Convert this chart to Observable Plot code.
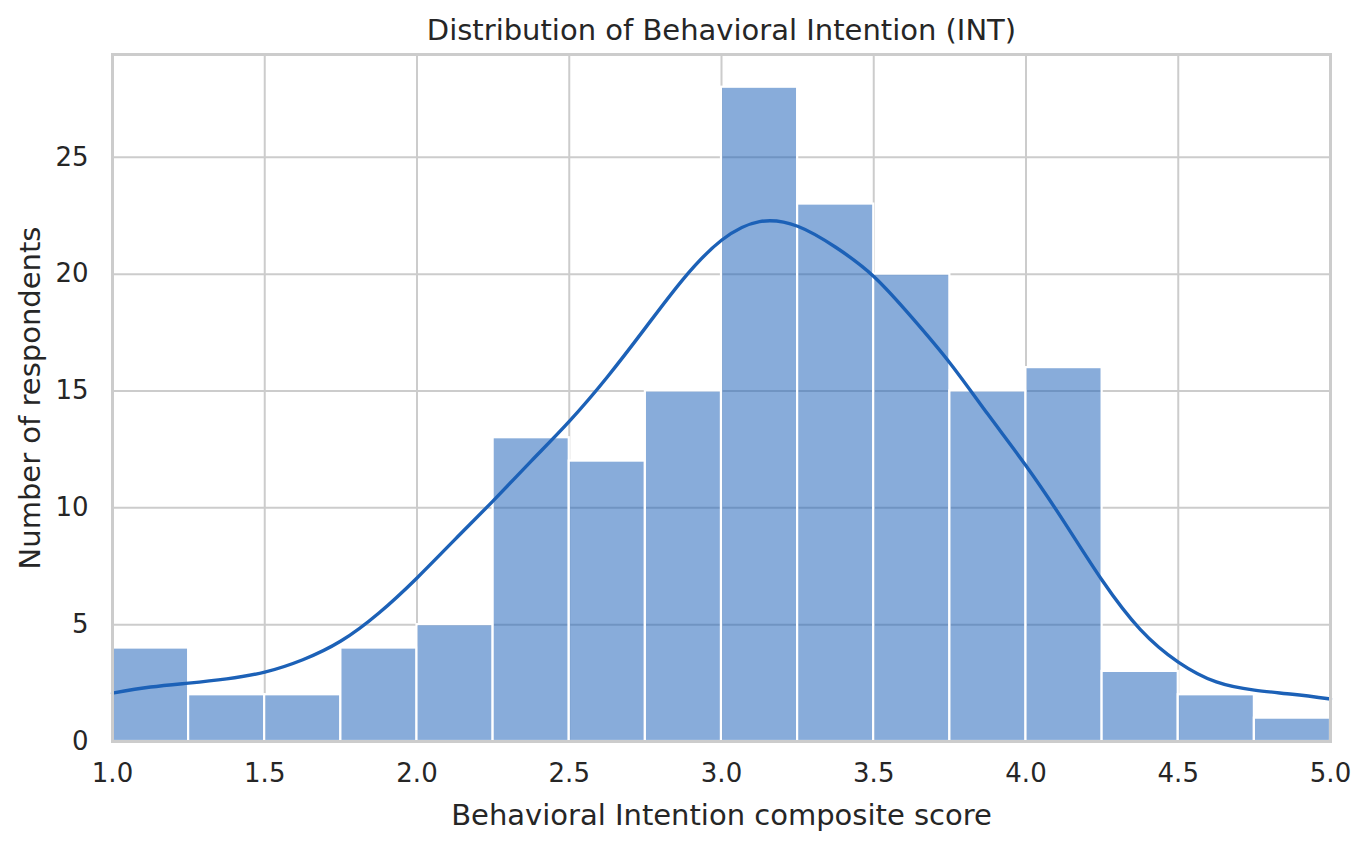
<!DOCTYPE html>
<html>
<head>
<meta charset="utf-8">
<script src="https://cdn.jsdelivr.net/npm/d3@7"></script>
<script src="https://cdn.jsdelivr.net/npm/@observablehq/plot@0.6"></script>
<style>
  html, body { margin: 0; padding: 0; background: #ffffff; }
  #chart svg { display: block; }
</style>
</head>
<body>
<div id="chart"></div>
<script>
// ---- Data ----
const titleText = "Distribution of Behavioral Intention (INT)";
const xLabel = "Behavioral Intention composite score";
const yLabel = "Number of respondents";

const binEdges = [1.0, 1.25, 1.5, 1.75, 2.0, 2.25, 2.5, 2.75, 3.0, 3.25, 3.5, 3.75, 4.0, 4.25, 4.5, 4.75, 5.0];
const counts   = [4, 2, 2, 4, 5, 13, 12, 15, 28, 23, 20, 15, 16, 3, 2, 1];

const kdeX = [1.0, 1.125, 1.25, 1.375, 1.5, 1.625, 1.75, 1.875, 2.0, 2.125, 2.25, 2.375, 2.5, 2.625, 2.75, 2.875,
              3.0, 3.125, 3.25, 3.375, 3.5, 3.625, 3.75, 3.875, 4.0, 4.125, 4.25, 4.375, 4.5, 4.625, 4.75, 4.875, 5.0];
const kdeY = [2.07, 2.33, 2.5, 2.68, 2.97, 3.5, 4.3, 5.5, 7.0, 8.65, 10.3, 12.0, 13.7, 15.6, 17.7, 19.8,
              21.45, 22.25, 22.05, 21.15, 19.9, 18.15, 16.2, 14.0, 11.8, 9.4, 6.9, 4.8, 3.4, 2.55, 2.2, 2.02, 1.82];

const xTicks = [1.0, 1.5, 2.0, 2.5, 3.0, 3.5, 4.0, 4.5, 5.0];
const yTicks = [0, 5, 10, 15, 20, 25];
const yMax = 29.4;

// ---- Tables built from the arrays ----
const bins = counts.map((c, i) => ({x0: binEdges[i], x1: binEdges[i + 1], count: c}));
const kde = kdeX.map((x, i) => ({x, y: kdeY[i]}));

const textColor = "#262626";
const gridColor = "#cccccc";

const chart = Plot.plot({
  width: 1370,
  height: 846,
  marginLeft: 112,
  marginRight: 40,
  marginTop: 54,
  marginBottom: 105,
  style: {fontFamily: "DejaVu Sans", color: textColor, background: "#ffffff", overflow: "visible"},
  x: {domain: [1, 5]},
  y: {domain: [0, yMax]},
  marks: [
    Plot.gridX(xTicks, {stroke: gridColor, strokeOpacity: 1, strokeWidth: 2}),
    Plot.gridY(yTicks, {stroke: gridColor, strokeOpacity: 1, strokeWidth: 2}),
    Plot.rectY(bins, {x1: "x0", x2: "x1", y: "count", inset: 0, fill: "#1f63b9", fillOpacity: 0.53, stroke: "#ffffff", strokeWidth: 2.2}),
    Plot.line(kde, {x: "x", y: "y", curve: "natural", stroke: "#1c61b7", strokeWidth: 3.4}),
    Plot.frame({stroke: gridColor, strokeWidth: 3}),
    Plot.axisX(xTicks, {tickSize: 0, tickPadding: 22, fontSize: 26, fill: textColor, tickFormat: d3.format(".1f"), label: null}),
    Plot.axisY(yTicks, {tickSize: 0, tickPadding: 24, fontSize: 26, fill: textColor, label: null}),
    Plot.text([titleText], {frameAnchor: "top", dy: -24, lineAnchor: "middle", fontSize: 29, fill: textColor, text: d => d}),
    Plot.text([xLabel], {frameAnchor: "bottom", dy: 74, lineAnchor: "middle", fontSize: 29, fill: textColor, text: d => d}),
    Plot.text([yLabel], {frameAnchor: "left", dx: -82, rotate: -90, textAnchor: "middle", lineAnchor: "middle", fontSize: 29, fill: textColor, text: d => d})
  ]
});
document.getElementById("chart").appendChild(chart);
</script>
</body>
</html>
